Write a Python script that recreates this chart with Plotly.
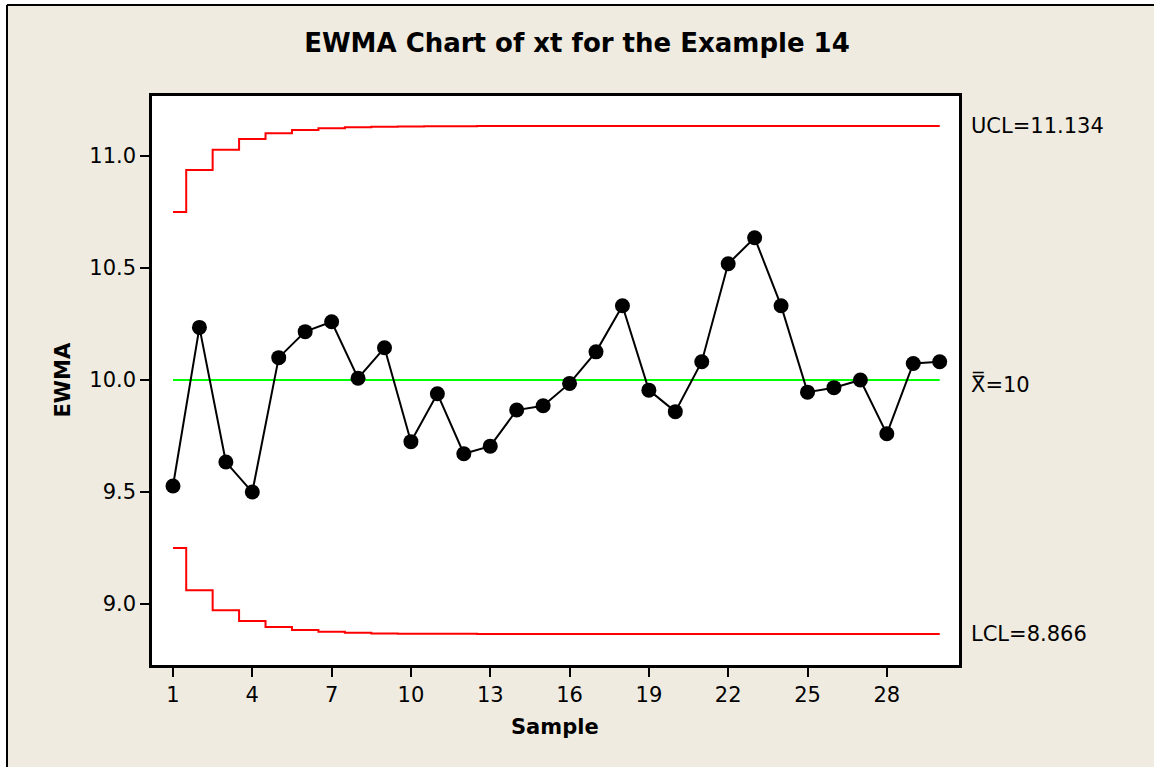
import plotly.graph_objects as go

# ---- data ----
samples = list(range(1, 31))
ewma = [9.527, 10.235, 9.634, 9.500, 10.100, 10.216, 10.260, 10.008, 10.144, 9.725,
        9.939, 9.671, 9.705, 9.866, 9.885, 9.985, 10.126, 10.332, 9.955, 9.859,
        10.082, 10.519, 10.635, 10.332, 9.946, 9.966, 10.000, 9.760, 10.074, 10.082]
ucl = [10.750, 10.938, 11.028, 11.076, 11.102, 11.116, 11.124, 11.128, 11.131, 11.132,
       11.133, 11.133, 11.134, 11.134, 11.134, 11.134, 11.134, 11.134, 11.134, 11.134,
       11.134, 11.134, 11.134, 11.134, 11.134, 11.134, 11.134, 11.134, 11.134, 11.134]
lcl = [9.250, 9.062, 8.972, 8.924, 8.898, 8.884, 8.876, 8.872, 8.869, 8.868,
       8.867, 8.867, 8.866, 8.866, 8.866, 8.866, 8.866, 8.866, 8.866, 8.866,
       8.866, 8.866, 8.866, 8.866, 8.866, 8.866, 8.866, 8.866, 8.866, 8.866]
center = [10.0] * len(samples)
x_ticks = [1, 4, 7, 10, 13, 16, 19, 22, 25, 28]
y_ticks = [9.0, 9.5, 10.0, 10.5, 11.0]
ucl_label = "UCL=11.134"
cl_label = "X\u033F=10"
lcl_label = "LCL=8.866"

BG = "#efebe0"
FONT = "DejaVu Sans"

W, H = 1154, 767
ML, MT, MR, MB = 152, 96, 195, 102
PW = W - ML - MR
PH = H - MT - MB


def px_to_paper_x(px):
    return (px - ML) / PW


def px_to_paper_y(py):
    return (H - MB - py) / PH


fig = go.Figure()
fig.add_trace(go.Scatter(x=samples, y=ucl, mode="lines", line=dict(color="#ff0000", width=2, shape="hvh"),
                         hoverinfo="skip"))
fig.add_trace(go.Scatter(x=samples, y=lcl, mode="lines", line=dict(color="#ff0000", width=2, shape="hvh"),
                         hoverinfo="skip"))
fig.add_trace(go.Scatter(x=samples, y=center, mode="lines", line=dict(color="#00ff00", width=2),
                         hoverinfo="skip"))
fig.add_trace(go.Scatter(x=samples, y=ewma, mode="lines+markers",
                         line=dict(color="black", width=2),
                         marker=dict(color="black", size=15)))

axis_common = dict(showline=True, linecolor="black", linewidth=2.5, mirror=True,
                   showgrid=False, zeroline=False, ticks="outside", ticklen=9, tickwidth=2,
                   tickcolor="black", tickfont=dict(family=FONT, size=21, color="black"))

fig.update_xaxes(range=[0.206, 30.73], tickvals=x_ticks, ticktext=[str(v) for v in x_ticks],
                 **axis_common)
fig.update_yaxes(range=[8.728, 11.268], tickvals=y_ticks, ticktext=[f"{v:.1f}" for v in y_ticks],
                 **axis_common)

ann_font = dict(family=FONT, size=21, color="black")
fig.add_annotation(x=1.0124, xref="paper", y=ucl[-1], yref="y", text=ucl_label, showarrow=False,
                   xanchor="left", yanchor="middle", font=ann_font)
fig.add_annotation(x=1.0124, xref="paper", y=center[-1], yref="y", text=cl_label, showarrow=False,
                   xanchor="left", yanchor="middle", yshift=-4, font=ann_font)
fig.add_annotation(x=1.0124, xref="paper", y=lcl[-1], yref="y", text=lcl_label, showarrow=False,
                   xanchor="left", yanchor="middle", font=ann_font)

# axis titles
fig.add_annotation(x=-0.1115, xref="paper", y=0.5, yref="paper", text="<b>EWMA</b>", showarrow=False,
                   textangle=-90, xanchor="center", yanchor="middle",
                   font=dict(family=FONT, size=21, color="black"))
fig.add_annotation(x=0.4988, xref="paper", y=-0.109, yref="paper", text="<b>Sample</b>", showarrow=False,
                   xanchor="center", yanchor="middle",
                   font=dict(family=FONT, size=21, color="black"))

# white strip outside the outer frame, then the frame lines (top and left)
x0p, x1p = px_to_paper_x(0), px_to_paper_x(W)
y0p, y1p = px_to_paper_y(H), px_to_paper_y(0)
fig.add_shape(type="rect", xref="paper", yref="paper", x0=x0p, x1=px_to_paper_x(6), y0=y0p, y1=y1p,
              fillcolor="white", line=dict(width=0))
fig.add_shape(type="rect", xref="paper", yref="paper", x0=x0p, x1=x1p, y0=px_to_paper_y(4), y1=y1p,
              fillcolor="white", line=dict(width=0))
fig.add_shape(type="line", xref="paper", yref="paper", x0=px_to_paper_x(7), x1=x1p,
              y0=px_to_paper_y(5), y1=px_to_paper_y(5), line=dict(color="black", width=2))
fig.add_shape(type="line", xref="paper", yref="paper", x0=px_to_paper_x(7), x1=px_to_paper_x(7),
              y0=y0p, y1=px_to_paper_y(5), line=dict(color="black", width=2))

fig.update_layout(
    width=W, height=H,
    margin=dict(l=ML, r=MR, t=MT, b=MB),
    paper_bgcolor=BG, plot_bgcolor="white",
    showlegend=False,
    title=dict(text="<b>EWMA Chart of xt for the Example 14</b>", x=577 / W, xref="container",
               y=1 - 43 / H, yref="container", xanchor="center", yanchor="middle",
               font=dict(family=FONT, size=26, color="black")),
)

fig.write_html(
    "out.html",
    config={"displayModeBar": False},
    post_script="document.documentElement.style.margin='0';document.body.style.margin='0';"
                "document.body.style.overflow='hidden';document.documentElement.style.overflow='hidden';",
)
